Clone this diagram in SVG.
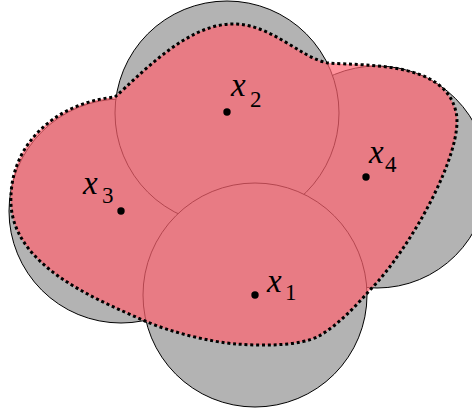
<svg xmlns="http://www.w3.org/2000/svg" width="472" height="412" viewBox="0 0 472 412">
<style>
.disk{fill:#b3b3b3;stroke:#000;stroke-width:1}
.region{fill:#ff6470;fill-opacity:0.7;stroke:none}
.boundary{fill:none;stroke:#000;stroke-width:3;stroke-dasharray:3 2.8}
.pt{fill:#000}
text{font-family:'Liberation Serif','DejaVu Serif',serif;fill:#000}
.lab{font-style:italic;font-size:33px}
.sub{font-size:23px}
</style>
<rect width="472" height="412" fill="#fff"/>
<g id="disks">
<circle id="disk3" class="disk" cx="121" cy="211" r="112"/>
<circle id="disk4" class="disk" cx="377" cy="177" r="111"/>
<circle id="disk2" class="disk" cx="227" cy="113" r="112"/>
<circle id="disk1" class="disk" cx="255" cy="295" r="112"/>
</g>
<g id="region">
<path class="region" d="M115,97 C140,75 185,26 230,24 C270,22 300,58 328,63 C370,66 445,62 456,112 C465,150 410,250 369,291 C355,307 338,325 319,336 C300,346 265,346 236,344 C210,342 170,332 145,321 C90,297 15,265 11,205 C8,145 55,103 115,97 Z"/>
<path class="boundary" d="M115,97 C140,75 185,26 230,24 C270,22 300,58 328,63 C370,66 445,62 456,112 C465,150 410,250 369,291 C355,307 338,325 319,336 C300,346 265,346 236,344 C210,342 170,332 145,321 C90,297 15,265 11,205 C8,145 55,103 115,97 Z"/>
</g>
<g id="x1">
<circle class="pt" cx="255" cy="295" r="3.7"/>
<text class="lab" x="267" y="292">x</text><text class="sub" x="285" y="300">1</text>
</g>
<g id="x2">
<circle class="pt" cx="227" cy="112" r="3.7"/>
<text class="lab" x="231" y="96">x</text><text class="sub" x="250" y="107">2</text>
</g>
<g id="x3">
<circle class="pt" cx="121" cy="211" r="3.7"/>
<text class="lab" x="83" y="194">x</text><text class="sub" x="102" y="203">3</text>
</g>
<g id="x4">
<circle class="pt" cx="366" cy="177" r="3.7"/>
<text class="lab" x="369" y="163">x</text><text class="sub" x="385" y="172">4</text>
</g>
</svg>
